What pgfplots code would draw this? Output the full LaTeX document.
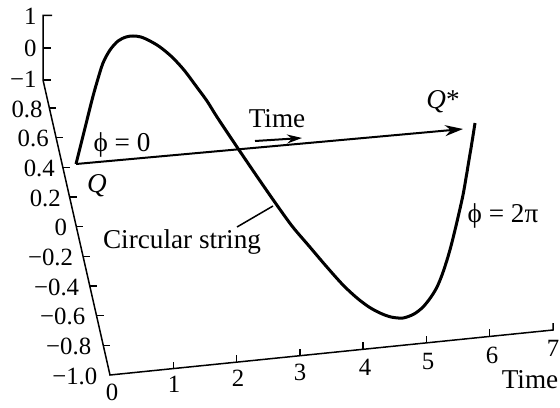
\documentclass[border=0pt]{standalone}
\usepackage{fontspec}
\setmainfont{Liberation Serif}
\usepackage{pgfplots}
\pgfplotsset{compat=1.18}
\usetikzlibrary{arrows.meta}

\begin{document}
\begin{tikzpicture}[
  tl/.style={inner sep=0pt, font=\fontsize{12.4}{14}\selectfont},
  lbl/.style={inner sep=0pt, font=\fontsize{13.6}{16}\selectfont},
]
\begin{axis}[
  x=0.5pt, y=0.5pt, y dir=reverse,
  xmin=0, xmax=560, ymin=0, ymax=407,
  hide axis, clip=false,
  unbounded coords=jump,
]
% frame of the drawing area
\addplot[draw=none] coordinates {(0,0) (560,407)};

% axes: short upper scale, slanted amplitude axis, time axis
\addplot[black, line width=0.75pt, line join=miter] coordinates {
  (52,15.3) (43,15.3) (43,80) (110,375) (553,330) (553,323)};

% tick marks
\addplot[black, line width=0.75pt] coordinates {
  (43,48) (51,48) (nan,nan)
  (43,80) (51,80) (nan,nan)
  (49.4,108) (56.4,108) (nan,nan)
  (56.1,137.7) (63.1,137.7) (nan,nan)
  (62.8,167.3) (69.8,167.3) (nan,nan)
  (69.6,197) (76.6,197) (nan,nan)
  (76.3,226.7) (83.3,226.7) (nan,nan)
  (83.0,256.3) (90.0,256.3) (nan,nan)
  (89.8,286) (96.8,286) (nan,nan)
  (96.5,315.7) (103.5,315.7) (nan,nan)
  (103.3,345.3) (110.3,345.3) (nan,nan)
  (173.3,368.6) (173.3,361.6) (nan,nan)
  (236.6,362.1) (236.6,355.1) (nan,nan)
  (299.9,355.7) (299.9,348.7) (nan,nan)
  (363.2,349.3) (363.2,342.3) (nan,nan)
  (426.5,342.9) (426.5,335.9) (nan,nan)
  (489.7,336.4) (489.7,329.4)};

% upper scale labels
\node[tl, anchor=east] at (axis cs:37,16.5) {1};
\node[tl, anchor=east] at (axis cs:37,48) {0};
\node[tl, anchor=east] at (axis cs:37,79) {−1};

% amplitude labels
\node[tl, anchor=east] at (axis cs:43.0,109) {0.8};
\node[tl, anchor=east] at (axis cs:49.1,138.5) {0.6};
\node[tl, anchor=east] at (axis cs:55.2,168) {0.4};
\node[tl, anchor=east] at (axis cs:61.2,198) {0.2};
\node[tl, anchor=east] at (axis cs:67.3,227.5) {0};
\node[tl, anchor=east] at (axis cs:73.4,257) {−0.2};
\node[tl, anchor=east] at (axis cs:79.5,287) {−0.4};
\node[tl, anchor=east] at (axis cs:85.6,316.5) {−0.6};
\node[tl, anchor=east] at (axis cs:91.6,346) {−0.8};
\node[tl, anchor=east] at (axis cs:97.7,376) {−1.0};

% time labels
\node[tl] at (axis cs:112,392) {0};
\node[tl] at (axis cs:174,384) {1};
\node[tl] at (axis cs:238,378) {2};
\node[tl] at (axis cs:300,372) {3};
\node[tl] at (axis cs:365,367) {4};
\node[tl] at (axis cs:428,361) {5};
\node[tl] at (axis cs:492,355) {6};
\node[tl] at (axis cs:553,348) {7};
\node[lbl] at (axis cs:530,380) {Time};

% world-sheet direction from Q to Q*
\addplot[black, line width=1pt, -{Stealth[length=9pt, width=5.5pt]}]
  coordinates {(76,164) (463,129)};
% small time arrow
\addplot[black, line width=1pt, -{Stealth[length=7.5pt, width=4.5pt]}]
  coordinates {(255,141) (302,138)};

% the circular string, phi from 0 to 2pi
\addplot[black, line width=1.5pt, smooth] coordinates {
  (76,164) (84,132) (92,100) (97,82) (103,63) (110,50) (118,41) (126,37)
  (133,36) (141,37) (150,41) (160,47) (172,57) (184,70) (196,86) (207,101)
  (217,117) (237,147) (256,175) (274,201) (292,226) (309,246) (326,266)
  (343,285) (357,298) (369,307) (380,313)
  (391,317) (403,318) (414,314) (423,307) (431,297) (437,287) (442,275)
  (447,260) (451,246) (455,230) (459,213) (463,195) (466,178) (469,160)
  (472,142) (475,123)};

% leader line to the label
\addplot[black, line width=0.75pt] coordinates {(237,227) (273,206)};

% annotations
\node[lbl] at (axis cs:122,145) {ϕ = 0};
\node[lbl] at (axis cs:97,186) {\textit{Q}};
\node[lbl] at (axis cs:443,102) {\textit{Q}*};
\node[lbl] at (axis cs:277,119) {Time};
\node[lbl] at (axis cs:182,242) {Circular string};
\node[lbl] at (axis cs:503,216) {ϕ = 2π};
\end{axis}
\end{tikzpicture}
\end{document}
